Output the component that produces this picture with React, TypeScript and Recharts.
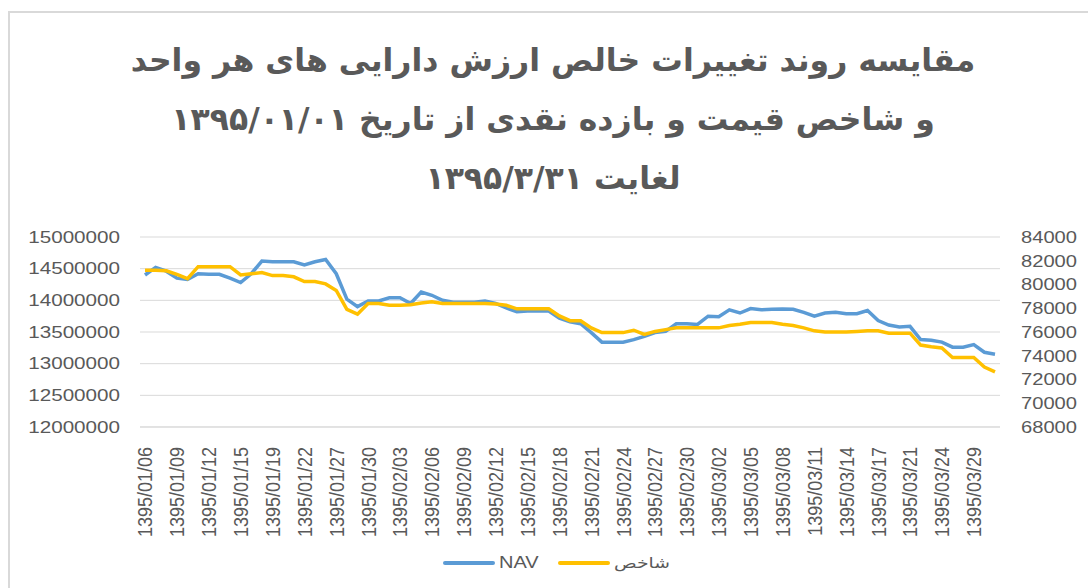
import { LineChart, Line, XAxis, YAxis, CartesianGrid, Legend } from "recharts";

const dates = [
  "1395/01/06", "1395/01/07", "1395/01/08", "1395/01/09", "1395/01/10", "1395/01/11", "1395/01/12", "1395/01/13", "1395/01/14",
  "1395/01/15", "1395/01/16", "1395/01/17", "1395/01/19", "1395/01/20", "1395/01/21", "1395/01/22", "1395/01/23", "1395/01/24",
  "1395/01/27", "1395/01/28", "1395/01/29", "1395/01/30", "1395/01/31", "1395/02/01", "1395/02/03", "1395/02/04", "1395/02/05",
  "1395/02/06", "1395/02/07", "1395/02/08", "1395/02/09", "1395/02/10", "1395/02/11", "1395/02/12", "1395/02/13", "1395/02/14",
  "1395/02/15", "1395/02/16", "1395/02/17", "1395/02/18", "1395/02/19", "1395/02/20", "1395/02/21", "1395/02/22", "1395/02/23",
  "1395/02/24", "1395/02/25", "1395/02/26", "1395/02/27", "1395/02/28", "1395/02/29", "1395/02/30", "1395/02/31", "1395/03/01",
  "1395/03/02", "1395/03/03", "1395/03/04", "1395/03/05", "1395/03/06", "1395/03/07", "1395/03/08", "1395/03/09", "1395/03/10",
  "1395/03/11", "1395/03/12", "1395/03/13", "1395/03/14", "1395/03/15", "1395/03/16", "1395/03/17", "1395/03/18", "1395/03/20",
  "1395/03/21", "1395/03/22", "1395/03/23", "1395/03/24", "1395/03/25", "1395/03/28", "1395/03/29", "1395/03/30", "1395/03/31",
];

// NAV per unit (left axis)
const nav = [
  14400000, 14520000, 14460000, 14350000, 14330000, 14420000, 14410000, 14410000, 14350000, 14280000,
  14420000, 14620000, 14610000, 14610000, 14610000, 14560000, 14610000, 14645000, 14420000, 14020000,
  13900000, 13990000, 13990000, 14040000, 14040000, 13950000, 14130000, 14080000, 14000000, 13970000,
  13970000, 13970000, 13990000, 13950000, 13880000, 13820000, 13830000, 13830000, 13830000, 13720000,
  13660000, 13630000, 13490000, 13340000, 13340000, 13340000, 13380000, 13430000, 13490000, 13510000,
  13630000, 13630000, 13620000, 13750000, 13740000, 13850000, 13800000, 13870000, 13850000, 13860000,
  13865000, 13860000, 13810000, 13750000, 13800000, 13810000, 13790000, 13790000, 13840000, 13680000,
  13610000, 13580000, 13590000, 13380000, 13370000, 13340000, 13260000, 13260000, 13300000, 13180000,
  13150000,
];

// total return price index (right axis)
const index = [
  81200, 81200, 81150, 80850, 80500, 81500, 81500, 81500, 81500, 80800,
  80900, 81000, 80750, 80750, 80650, 80250, 80250, 80050, 79500, 77900,
  77500, 78400, 78400, 78250, 78250, 78300, 78450, 78550, 78400, 78400,
  78400, 78400, 78400, 78350, 78250, 77950, 77950, 77950, 77950, 77350,
  76950, 76950, 76350, 75950, 75950, 75950, 76150, 75800, 76050, 76200,
  76350, 76350, 76350, 76350, 76350, 76550, 76650, 76800, 76800, 76800,
  76650, 76550, 76350, 76100, 76000, 76000, 76000, 76050, 76100, 76100,
  75900, 75900, 75900, 74900, 74750, 74650, 73850, 73850, 73850, 73050,
  72650,
];

const leftTicks = [12000000, 12500000, 13000000, 13500000, 14000000, 14500000, 15000000];
const rightTicks = [68000, 70000, 72000, 74000, 76000, 78000, 80000, 82000, 84000];

const titleLines = [
  "مقایسه روند تغییرات خالص ارزش دارایی های هر واحد",
  "و شاخص قیمت و بازده نقدی از تاریخ ۱۳۹۵/۰۱/۰۱",
  "لغایت ۱۳۹۵/۳/۳۱",
];

const data = dates.map((d, i) => ({ date: d, nav: nav[i], index: index[i] }));

const TEXT = "#595959";
const GRID = "#d9d9d9";
const BLUE = "#5b9bd5";
const GOLD = "#ffc000";

function LeftTick({ x, y, payload }: any) {
  return (
    <g transform={`translate(${x},${y}) scale(1.29,1)`}>
      <text textAnchor="end" dy="0.36em" fontSize={16} fill={TEXT} fontFamily="Liberation Sans">{payload.value}</text>
    </g>
  );
}

function RightTick({ x, y, payload }: any) {
  return (
    <g transform={`translate(${x},${y}) scale(1.26,1)`}>
      <text textAnchor="start" dy="0.36em" fontSize={16} fill={TEXT} fontFamily="Liberation Sans">{payload.value}</text>
    </g>
  );
}

function DateTick({ x, y, payload }: any) {
  return (
    <g transform={`translate(${x},${y + 12}) scale(1.14,1)`}>
      <text transform="rotate(-90)" textAnchor="end" dy="0.36em" fontSize={18} fill={TEXT} fontFamily="Liberation Sans">{payload.value}</text>
    </g>
  );
}

function LegendBox() {
  const item = (color: string, label: string, left: number, rtl?: boolean) => (
    <div style={{ position: "absolute", left, top: 0, height: 30, display: "flex", alignItems: "center" }}>
      <div style={{ width: 52, height: 4, background: color, borderRadius: 2 }} />
      <span
        style={{
          marginLeft: 4,
          fontSize: rtl ? 15 : 16,
          color: TEXT,
          fontFamily: rtl ? "DejaVu Sans" : "Liberation Sans",
          display: "inline-block",
          transform: "scaleX(1.25)",
          transformOrigin: "left center",
        }}
        dir={rtl ? "rtl" : undefined}
      >
        {label}
      </span>
    </div>
  );
  return (
    <div style={{ position: "relative", height: 30, width: 1088 }}>
      {item(BLUE, "NAV", 443)}
      {item(GOLD, "شاخص", 558, true)}
    </div>
  );
}

export default function App() {
  return (
    <div style={{ position: "absolute", left: 0, top: 0, width: 1088, height: 588, overflow: "hidden", background: "#fff" }}>
      <div style={{ position: "absolute", left: 8, top: 11, width: 1200, height: 700, borderTop: `2px solid ${GRID}`, borderLeft: `2px solid ${GRID}` }} />
      <div
        dir="rtl"
        style={{
          position: "absolute",
          left: 0,
          top: 31,
          width: 1106,
          textAlign: "center",
          fontFamily: "DejaVu Sans",
          fontWeight: "bold",
          fontSize: 31.5,
          lineHeight: "59px",
          color: TEXT,
        }}
      >
        {titleLines.map((t, i) => (
          <div key={i}>{t}</div>
        ))}
      </div>
      <div style={{ position: "absolute", left: 0, top: 0 }}>
        <LineChart width={1088} height={588} data={data} margin={{ top: 237, right: 0, bottom: 10, left: 0 }}>
          <CartesianGrid vertical={false} yAxisId="left" stroke={GRID} />
          <XAxis
            dataKey="date"
            interval={2}
            tickLine={false}
            axisLine={{ stroke: GRID }}
            padding={{ left: 5, right: 5 }}
            height={121}
            tick={<DateTick />}
          />
          <YAxis
            yAxisId="left"
            width={140}
            domain={[12000000, 15000000]}
            ticks={leftTicks}
            axisLine={false}
            tickLine={false}
            tickSize={0}
            tickMargin={20}
            tick={<LeftTick />}
          />
          <YAxis
            yAxisId="right"
            orientation="right"
            width={88}
            domain={[68000, 84000]}
            ticks={rightTicks}
            axisLine={false}
            tickLine={false}
            tickSize={0}
            tickMargin={21}
            tick={<RightTick />}
          />
          <Legend verticalAlign="bottom" content={() => <LegendBox />} />
          <Line yAxisId="left" dataKey="nav" name="NAV" stroke={BLUE} strokeWidth={3.5} dot={false} isAnimationActive={false} />
          <Line yAxisId="right" dataKey="index" name="شاخص" stroke={GOLD} strokeWidth={3.5} dot={false} isAnimationActive={false} />
        </LineChart>
      </div>
    </div>
  );
}
